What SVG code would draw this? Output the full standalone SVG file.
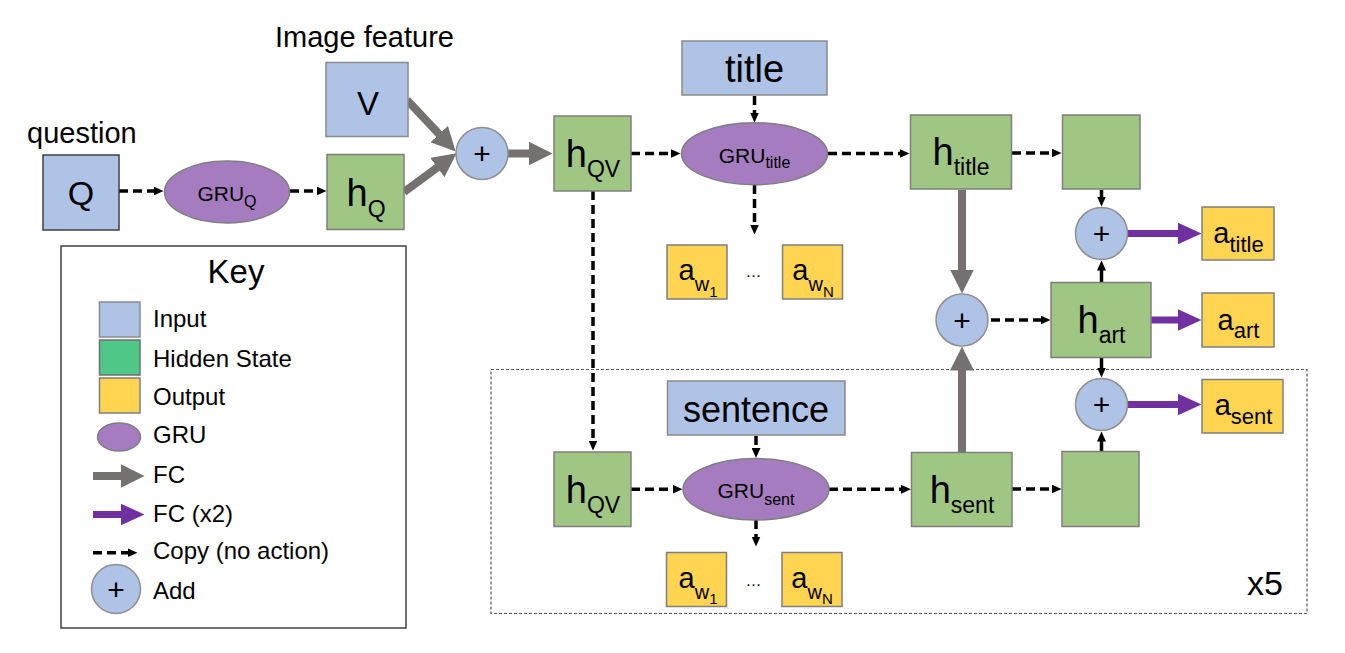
<svg xmlns="http://www.w3.org/2000/svg" width="1345" height="653" viewBox="0 0 1345 653">
<style>
text{font-family:"Liberation Sans",Arial,sans-serif;fill:#000}
.inp{fill:#AFC3E7;stroke:#8A8A8A;stroke-width:1.5}
.hid{fill:#A0C684;stroke:#7F7F7F;stroke-width:1.5}
.out{fill:#FFD451;stroke:#7F7F7F;stroke-width:1.5}
.gru{fill:#A57CBF;stroke:#7F7F7F;stroke-width:1.5}
.add{fill:#AFC3E7;stroke:#8F8F8F;stroke-width:1.5}
.fc{stroke:#767171;stroke-width:8;fill:none;marker-end:url(#gh)}
.fc2{stroke:#7030A0;stroke-width:7;fill:none;marker-end:url(#ph)}
.cp{stroke:#000;stroke-width:3.5;stroke-dasharray:9 5;fill:none;marker-end:url(#bh)}
.sl{stroke:#000;stroke-width:3.5;fill:none;marker-end:url(#bh)}
.big{font-size:38px}
.sub{font-size:23px}
.gl{font-size:21px}
.gs{font-size:16px}
.a{font-size:29px}
.as{font-size:22px}
.pl{font-size:30px}
.lg{font-size:24px}
</style>
<defs>
<marker id="gh" markerUnits="userSpaceOnUse" viewBox="0 0 24 24" markerWidth="24" markerHeight="24" refX="0.5" refY="12" orient="auto"><path d="M0,0 L24,12 L0,24 z" fill="#767171"/></marker>
<marker id="ph" markerUnits="userSpaceOnUse" viewBox="0 0 24 22" markerWidth="24" markerHeight="22" refX="0.5" refY="11" orient="auto"><path d="M0,0 L24,11 L0,22 z" fill="#7030A0"/></marker>
<marker id="bh" markerUnits="userSpaceOnUse" viewBox="0 0 10 9" markerWidth="10" markerHeight="9" refX="0.5" refY="4.5" orient="auto"><path d="M0,0 L10,4.5 L0,9 z" fill="#000"/></marker>
</defs>

<g id="loop-box"><rect x="491" y="369.5" width="816" height="244" fill="none" stroke="#555" stroke-width="1.2" stroke-dasharray="3 2"/><text x="1247" y="595" style="font-size:34px">x5</text></g>

<g id="connectors">
<line class="fc" x1="407" y1="100" x2="439.5" y2="134.5"/>
<line class="fc" x1="404" y1="192" x2="437.7" y2="167.2"/>
<line class="fc" x1="508" y1="153.5" x2="529" y2="153.5"/>
<line class="fc" x1="962" y1="190" x2="962" y2="270"/>
<line class="fc" x1="962" y1="452" x2="962" y2="370"/>
<line class="fc2" x1="1127" y1="233.5" x2="1178" y2="233.5"/>
<line class="fc2" x1="1151" y1="320" x2="1178" y2="320"/>
<line class="fc2" x1="1127" y1="404.5" x2="1178" y2="404.5"/>
<line class="cp" x1="119" y1="191" x2="154" y2="191"/>
<line class="cp" x1="290" y1="191" x2="317" y2="191"/>
<line class="cp" x1="631" y1="153.5" x2="671" y2="153.5"/>
<line class="cp" x1="828" y1="153.5" x2="900" y2="153.5"/>
<line class="cp" x1="754.5" y1="96" x2="754.5" y2="113"/>
<line class="cp" x1="754.5" y1="185" x2="754.5" y2="225"/>
<line class="cp" x1="1012" y1="153" x2="1052" y2="153"/>
<line class="cp" x1="593" y1="191" x2="593" y2="441"/>
<line class="cp" x1="991" y1="320" x2="1041" y2="320"/>
<line class="cp" x1="756" y1="436" x2="756" y2="448.5"/>
<line class="cp" x1="756" y1="520" x2="756" y2="537"/>
<line class="cp" x1="631" y1="489.3" x2="673" y2="489.3"/>
<line class="cp" x1="829" y1="489.3" x2="901.5" y2="489.3"/>
<line class="cp" x1="1012" y1="489" x2="1052" y2="489"/>
<line class="sl" x1="1101.5" y1="190" x2="1101.5" y2="197"/>
<line class="sl" x1="1101.5" y1="282" x2="1101.5" y2="270"/>
<line class="sl" x1="1101.5" y1="357" x2="1101.5" y2="368"/>
<line class="sl" x1="1101.5" y1="451" x2="1101.5" y2="441"/>
</g>

<g id="image-feature-label"><text x="275" y="47" style="font-size:29px">Image feature</text></g>
<g id="question-label"><text x="27" y="143" style="font-size:29px">question</text></g>

<g id="node-Q"><rect class="inp" x="43" y="155" width="76" height="75" style="stroke:#404040"/><text x="81" y="205" text-anchor="middle" style="font-size:34px">Q</text></g>
<g id="node-V"><rect class="inp" x="326" y="62.5" width="82" height="74"/><text x="368" y="115" text-anchor="middle" style="font-size:33px">V</text></g>
<g id="node-GRUQ"><ellipse class="gru" cx="227" cy="192" rx="62.5" ry="31"/><text x="227" y="200.5" text-anchor="middle" class="gl">GRU<tspan class="gs" dy="6.5">Q</tspan></text></g>
<g id="node-hQ"><rect class="hid" x="327" y="154.5" width="77" height="75"/><text x="366" y="205.7" text-anchor="middle" class="big">h<tspan class="sub" dy="11">Q</tspan></text></g>
<g id="node-add1"><circle class="add" cx="482" cy="153.5" r="26"/><text x="482" y="164" text-anchor="middle" class="pl">+</text></g>
<g id="node-hQV-top"><rect class="hid" x="554" y="116" width="77" height="75"/><text x="593" y="167" text-anchor="middle" class="big">h<tspan class="sub" dy="10">QV</tspan></text></g>
<g id="node-title"><rect class="inp" x="682" y="41" width="145" height="54"/><text x="754.5" y="81.7" text-anchor="middle" style="font-size:38px">title</text></g>
<g id="node-GRUtitle"><ellipse class="gru" cx="754.5" cy="153.7" rx="73" ry="31"/><text x="754.5" y="162.7" text-anchor="middle" class="gl">GRU<tspan class="gs" dy="5.5">title</tspan></text></g>
<g id="node-aw-top">
<rect class="out" x="667" y="245" width="60" height="54"/><text x="698" y="280" text-anchor="middle" class="a">a<tspan style="font-size:20px" dy="10.7">w</tspan><tspan style="font-size:15px" dy="6">1</tspan></text>
<text x="753.5" y="277" text-anchor="middle" style="font-size:16px">…</text>
<rect class="out" x="782.5" y="245" width="60" height="54"/><text x="813" y="280" text-anchor="middle" class="a">a<tspan style="font-size:20px" dy="10.7">w</tspan><tspan style="font-size:15px" dy="6">N</tspan></text>
</g>
<g id="node-htitle"><rect class="hid" x="910.5" y="115" width="101" height="74"/><text x="961" y="165" text-anchor="middle" class="big">h<tspan class="sub" dy="10">title</tspan></text></g>
<g id="node-title-copy"><rect class="hid" x="1062.5" y="115" width="77.5" height="74"/></g>
<g id="node-add-title"><circle class="add" cx="1101.5" cy="233.5" r="26"/><text x="1101.5" y="244" text-anchor="middle" class="pl">+</text></g>
<g id="node-atitle"><rect class="out" x="1202" y="207" width="72" height="53"/><text x="1238.5" y="243.3" text-anchor="middle" class="a">a<tspan class="as" dy="8.4">title</tspan></text></g>
<g id="node-add-art"><circle class="add" cx="962" cy="320" r="26"/><text x="962" y="330.5" text-anchor="middle" class="pl">+</text></g>
<g id="node-hart"><rect class="hid" x="1051" y="282.5" width="100" height="75"/><text x="1101.5" y="333" text-anchor="middle" class="big">h<tspan class="sub" dy="10">art</tspan></text></g>
<g id="node-aart"><rect class="out" x="1202" y="293" width="72" height="54"/><text x="1238.5" y="330" text-anchor="middle" class="a">a<tspan class="as" dy="8">art</tspan></text></g>
<g id="node-add-sent"><circle class="add" cx="1101.5" cy="404.5" r="26"/><text x="1101.5" y="415" text-anchor="middle" class="pl">+</text></g>
<g id="node-asent"><rect class="out" x="1202" y="379.5" width="81" height="53.5"/><text x="1243.5" y="415" text-anchor="middle" class="a">a<tspan class="as" dy="9">sent</tspan></text></g>
<g id="node-sentence"><rect class="inp" x="667.5" y="381" width="177.5" height="54"/><text x="756" y="421.7" text-anchor="middle" style="font-size:36px">sentence</text></g>
<g id="node-hQV-bottom"><rect class="hid" x="554" y="452" width="77" height="74.5"/><text x="593" y="502.7" text-anchor="middle" class="big">h<tspan class="sub" dy="10">QV</tspan></text></g>
<g id="node-GRUsent"><ellipse class="gru" cx="756" cy="489.3" rx="73" ry="30.7"/><text x="756" y="498.3" text-anchor="middle" class="gl">GRU<tspan class="gs" dy="7">sent</tspan></text></g>
<g id="node-aw-bottom">
<rect class="out" x="666.5" y="552.5" width="60" height="54"/><text x="698" y="587.7" text-anchor="middle" class="a">a<tspan style="font-size:20px" dy="11.5">w</tspan><tspan style="font-size:15px" dy="5">1</tspan></text>
<text x="753.5" y="586" text-anchor="middle" style="font-size:16px">…</text>
<rect class="out" x="782" y="552.5" width="60" height="54"/><text x="812" y="587.7" text-anchor="middle" class="a">a<tspan style="font-size:20px" dy="11.5">w</tspan><tspan style="font-size:15px" dy="5">N</tspan></text>
</g>
<g id="node-hsent"><rect class="hid" x="911.5" y="452.5" width="100.5" height="74"/><text x="962" y="502.7" text-anchor="middle" class="big">h<tspan class="sub" dy="10">sent</tspan></text></g>
<g id="node-sent-copy"><rect class="hid" x="1062" y="451.5" width="77" height="75"/></g>

<g id="key">
<rect x="61" y="246" width="345" height="382" fill="#fff" stroke="#404040" stroke-width="1.5"/>
<text x="236" y="282.7" text-anchor="middle" style="font-size:33px">Key</text>
<rect class="inp" x="99.5" y="302" width="40.5" height="35"/><text x="153" y="327.3" class="lg">Input</text>
<rect x="99.5" y="340" width="40.5" height="35" fill="#4FC787" stroke="#6F6F6F" stroke-width="1.5"/><text x="153" y="366.7" class="lg">Hidden State</text>
<rect class="out" x="99.5" y="378" width="40.5" height="35"/><text x="153" y="405" class="lg">Output</text>
<ellipse class="gru" cx="119" cy="437" rx="21.5" ry="14"/><text x="153" y="443.3" class="lg">GRU</text>
<line class="fc" x1="93" y1="476" x2="121" y2="476"/><text x="153" y="482.7" class="lg">FC</text>
<line class="fc2" x1="93" y1="514.5" x2="121" y2="514.5"/><text x="153" y="521.7" class="lg">FC (x2)</text>
<line class="cp" x1="93" y1="552.7" x2="128" y2="552.7"/><text x="153" y="559.3" class="lg">Copy (no action)</text>
<circle class="add" cx="116" cy="589" r="24.5"/><text x="116" y="599.5" text-anchor="middle" class="pl">+</text><text x="153" y="599.3" class="lg">Add</text>
</g>
</svg>
